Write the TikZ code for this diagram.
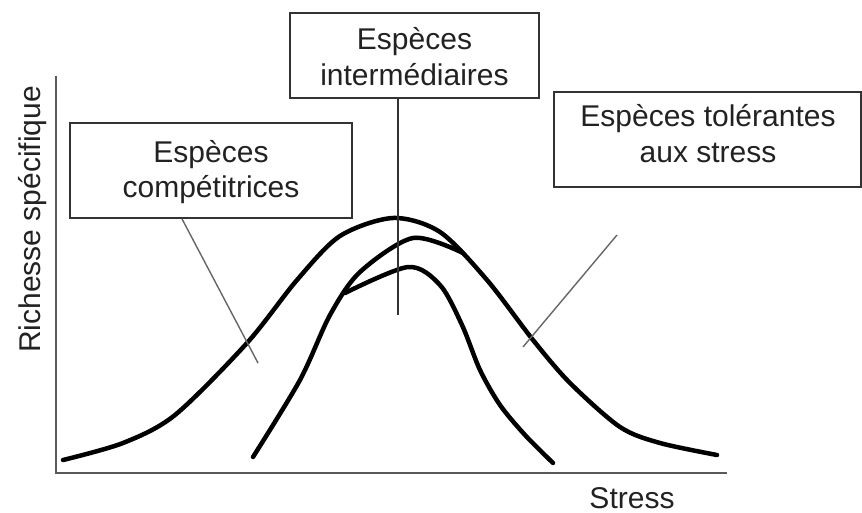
\documentclass[tikz,border=0pt]{standalone}
\usepackage{fontspec}
\setmainfont{Liberation Sans}
\definecolor{axisgray}{HTML}{5A5A5A}
\definecolor{boxgray}{HTML}{333333}
\definecolor{ptrgray}{HTML}{666666}
\definecolor{textgray}{HTML}{222222}
\begin{document}
\begin{tikzpicture}[x=1pt,y=-1pt,
  curve/.style={line width=4.5pt, line cap=round, line join=round, draw=black},
  axis/.style={line width=2.8pt, draw=axisgray},
  box/.style={draw=boxgray, line width=1.8pt, rectangle, inner sep=0pt},
  lbl/.style={font=\fontsize{30}{35.5}\selectfont, text=textgray, align=center, inner sep=0pt},
  pointer/.style={line width=1.4pt, draw=ptrgray},
  vline/.style={line width=1.8pt, draw=boxgray}]
\useasboundingbox (0,0) rectangle (862,513);

% axes
\coordinate (ytop) at (56,76);
\coordinate (orig) at (56,473);
\coordinate (xend) at (727,473);
\draw[axis] (ytop) -- (orig) -- (xend);
\node[lbl, rotate=90, anchor=base] (ylab) at (40,219.5) {Richesse spécifique};
\node[lbl, anchor=base] (xlab) at (632,508) {Stress};

% boxes
\node[box, minimum width=282pt, minimum height=95pt] (b1) at (211,170.5) {};
\node[lbl] (t1) at (211,172) {Espèces\\compétitrices};
\node[box, minimum width=249pt, minimum height=85pt] (b2) at (414.5,55.5) {};
\node[lbl] (t2) at (414.5,56.5) {Espèces\\intermédiaires};
\node[box, minimum width=307pt, minimum height=95pt] (b3) at (707.5,139.5) {};
\node[lbl] (t3) at (708,133.5) {Espèces tolérantes\\aux stress};

% curves
\draw[curve] plot[smooth] coordinates {(63,460) (123,443) (175,415) (247,343) (297,280) (340,236) (393,218) (440,232) (487,280) (533,340) (570,383) (620,427) (660,443) (717,455)};
\draw[curve] plot[smooth] coordinates {(253,457) (300,380) (330,315) (360,272) (413,238) (463,253)};
\draw[curve] plot[smooth] coordinates {(345,293) (408,267) (440,285) (462,325) (480,370) (500,405) (525,435) (553,463)};

% pointers
\coordinate (p1) at (258,363);
\draw[pointer] ([xshift=-29pt]b1.south) -- (p1);
\coordinate (p2) at (398,315);
\draw[vline] ([xshift=-16.5pt]b2.south) -- (p2);
\coordinate (p3s) at (617,235);
\coordinate (p3) at (523,347);
\draw[pointer] (p3s) -- (p3);
\end{tikzpicture}
\end{document}
